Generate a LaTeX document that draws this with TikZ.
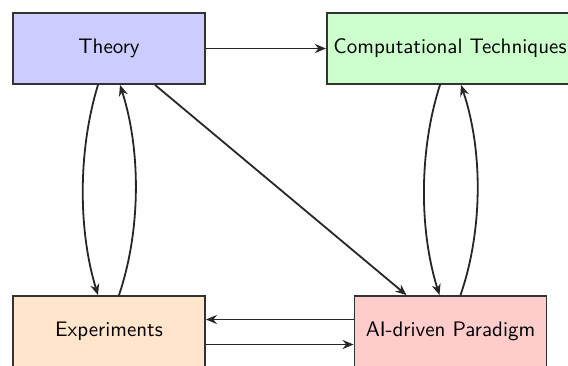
\documentclass[tikz,border=0pt]{standalone}
\usetikzlibrary{arrows.meta}
\begin{document}
\begin{tikzpicture}[x=0.5pt,y=-0.5pt,
  box/.style={draw=black!80,line width=0.9pt,rectangle,minimum width=96pt,minimum height=35.5pt,font=\sffamily\fontsize{10.5}{12}\selectfont,inner sep=3.33pt},
  arr/.style={line width=0.9pt,black!85,-{Stealth[length=5.5pt,width=4.5pt]}}]
\useasboundingbox (0,0) rectangle (568,365);
\clip (0,0) rectangle (568,365);
\node[box,fill=blue!20] (T) at (109,48.5) {Theory};
\node[box,fill=green!20] (C) at (450,48.5) {Computational Techniques};
\node[box,fill=orange!20] (E) at (109,331.5) {Experiments};
\node[box,fill=red!20] (A) at (450.5,331.5) {AI-driven Paradigm};
\draw[arr] (T) -- (C);
\draw[arr] ([xshift=-5.5pt]T.south) .. controls (78,150) and (78,230) .. ([xshift=-5.5pt]E.north);
\draw[arr] ([xshift=5pt]E.north) .. controls (141,230) and (141,150) .. ([xshift=5.5pt]T.south);
\draw[arr] ([xshift=-5pt]C.south) .. controls (419,150) and (419,230) .. ([xshift=-5.5pt]A.north);
\draw[arr] ([xshift=5pt]A.north) .. controls (483,230) and (483,150) .. ([xshift=5.5pt]C.south);
\draw[arr] ([xshift=23pt]T.south) -- ([xshift=-22pt]A.north);
\draw[arr] ([yshift=6pt]A.west) -- ([yshift=6pt]E.east);
\draw[arr] ([yshift=-6.5pt]E.east) -- ([yshift=-6.5pt]A.west);
\end{tikzpicture}
\end{document}
